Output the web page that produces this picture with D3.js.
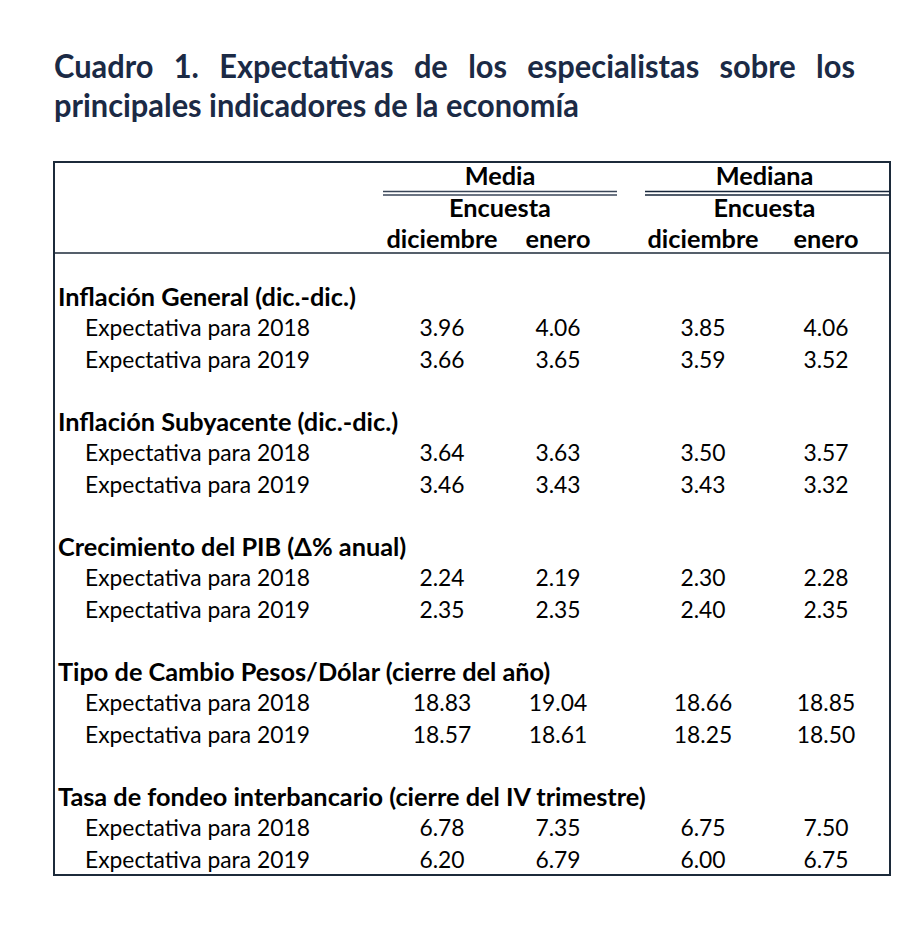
<!DOCTYPE html>
<html>
<head>
<meta charset="utf-8">
<script src="https://cdn.jsdelivr.net/npm/d3@7"></script>
<style>
  body { margin: 0; background: #fff; }
  text { font-family: Lato, "Open Sans", sans-serif; }
</style>
</head>
<body>
<div id="table1"></div>
<script>
const titleLines = ["Cuadro 1. Expectativas de los especialistas sobre los",
    "principales indicadores de la economía"];
const groups = ["Media", "Mediana"];
const surveys = ["diciembre", "enero"];
const sections = ["Inflación General (dic.-dic.)",
    "Inflación Subyacente (dic.-dic.)",
    "Crecimiento del PIB (Δ% anual)",
    "Tipo de Cambio Pesos/Dólar (cierre del año)",
    "Tasa de fondeo interbancario (cierre del IV trimestre)"];
const horizons = ["Expectativa para 2018", "Expectativa para 2019"];

// one entry per section, [2018, 2019]
const mediaDic = [[3.96, 3.66], [3.64, 3.46], [2.24, 2.35], [18.83, 18.57], [6.78, 6.20]];
const mediaEne = [[4.06, 3.65], [3.63, 3.43], [2.19, 2.35], [19.04, 18.61], [7.35, 6.79]];
const medianaDic = [[3.85, 3.59], [3.50, 3.43], [2.30, 2.40], [18.66, 18.25], [6.75, 6.00]];
const medianaEne = [[4.06, 3.52], [3.57, 3.32], [2.28, 2.35], [18.85, 18.50], [7.50, 6.75]];

const width = 919, height = 928;
const box = {left: 54, top: 162, right: 890, bottom: 875};
const navy = "#1b2a45";

let svg = d3.select("#table1")
    .append("svg")
    .attr("width", width)
    .attr("height", height);

function measure(str, size, weight) {
    let t = svg.append("text")
        .style("font-size", size + "px")
        .style("font-weight", weight)
        .text(str);
    let w = t.node().getComputedTextLength();
    t.remove();
    return w;
}

// font size so a sample string gets a given width
function fitSize(sample, weight, target, base) {
    return base * target / measure(sample, base, weight);
}

let boldSize = fitSize(sections[4], 700, 588, 20);
let regSize = fitSize(horizons[0], 400, 225, 20);

// title: taller glyphs squeezed to the reference width
const titleSize = 32;
let squeeze = 525 / measure(titleLines[1], titleSize, 700);

let titleWords = titleLines[0].split(" ");
let wordWidths = titleWords.map(w => measure(w, titleSize, 700) * squeeze);
let gap = (855 - box.left - d3.sum(wordWidths)) / (titleWords.length - 1);
let wx = box.left;
titleWords.forEach(function(w, i) {
    svg.append("text")
        .attr("x", wx)
        .attr("y", 78)
        .attr("textLength", wordWidths[i])
        .attr("lengthAdjust", "spacingAndGlyphs")
        .style("font-size", titleSize + "px")
        .style("font-weight", 700)
        .style("fill", navy)
        .text(w);
    wx += wordWidths[i] + gap;
});
svg.append("text")
    .attr("x", box.left)
    .attr("y", 117)
    .attr("textLength", 525)
    .attr("lengthAdjust", "spacingAndGlyphs")
    .style("font-size", titleSize + "px")
    .style("font-weight", 700)
    .style("fill", navy)
    .text(titleLines[1]);

// columns
let columns = [];
groups.forEach(g => surveys.forEach(s => columns.push(g + "|" + s)));

let xCol = d3.scaleOrdinal()
    .domain(columns)
    .range([442, 558, 703, 826]);

let xGroup = d3.scaleOrdinal()
    .domain(groups)
    .range([[383, 617], [645, box.right]]);

// rows
let ySection = d3.scaleBand()
    .domain(sections)
    .range([280, 280 + 125 * sections.length]);

let yRow = d3.scalePoint()
    .domain(horizons)
    .range([56, 88]);

// border
svg.append("rect")
    .attr("x", box.left)
    .attr("y", box.top)
    .attr("width", box.right - box.left)
    .attr("height", box.bottom - box.top)
    .attr("fill", "none")
    .attr("stroke", "#1c2a3a")
    .attr("stroke-width", 2);

svg.append("line")
    .attr("x1", box.left).attr("x2", box.right)
    .attr("y1", 253).attr("y2", 253)
    .attr("stroke", "#1c2a3a")
    .attr("stroke-width", 1.5);

// header
let head = svg.append("g")
    .selectAll("g")
    .data(groups)
    .enter()
    .append("g");

head.append("text")
    .attr("x", d => (xCol(d + "|diciembre") + xCol(d + "|enero")) / 2)
    .attr("y", 185)
    .style("text-anchor", "middle")
    .style("font-size", boldSize + "px")
    .style("font-weight", 700)
    .text(d => d);

[191.5, 195].forEach(function(yy) {
    head.append("line")
        .attr("x1", d => xGroup(d)[0])
        .attr("x2", d => xGroup(d)[1])
        .attr("y1", yy).attr("y2", yy)
        .attr("stroke", (d, i) => i == 0 ? "#3a4658" : "#17263a")
        .attr("stroke-width", 1.6);
});

head.append("text")
    .attr("x", d => (xCol(d + "|diciembre") + xCol(d + "|enero")) / 2)
    .attr("y", 217)
    .style("text-anchor", "middle")
    .style("font-size", boldSize + "px")
    .style("font-weight", 700)
    .text("Encuesta");

head.each(function(g) {
    d3.select(this).selectAll(".sub")
        .data(surveys)
        .enter()
        .append("text")
        .attr("class", "sub")
        .attr("x", d => xCol(g + "|" + d))
        .attr("y", 248)
        .style("text-anchor", "middle")
        .style("font-size", boldSize + "px")
        .style("font-weight", 700)
        .text(d => d);
});

// body
let series = [
    {col: "Media|diciembre", values: mediaDic},
    {col: "Media|enero", values: mediaEne},
    {col: "Mediana|diciembre", values: medianaDic},
    {col: "Mediana|enero", values: medianaEne}
];

let body = svg.append("g")
    .selectAll("g")
    .data(sections)
    .enter()
    .append("g")
    .attr("transform", d => `translate(0, ${ySection(d)})`);

body.append("text")
    .attr("x", 58)
    .attr("y", 26)
    .style("font-size", boldSize + "px")
    .style("font-weight", 700)
    .text(d => d);

body.each(function(sec, si) {
    let g = d3.select(this);
    g.selectAll(".label")
        .data(horizons)
        .enter()
        .append("text")
        .attr("class", "label")
        .attr("x", 85)
        .attr("y", d => yRow(d))
        .style("font-size", regSize + "px")
        .text(d => d);

    series.forEach(function(s) {
        g.selectAll(null)
            .data(horizons)
            .enter()
            .append("text")
            .attr("x", xCol(s.col))
            .attr("y", d => yRow(d))
            .style("text-anchor", "middle")
            .style("font-size", regSize + "px")
            .text((d, hi) => s.values[si][hi].toFixed(2));
    });
});
</script>
</body>
</html>
